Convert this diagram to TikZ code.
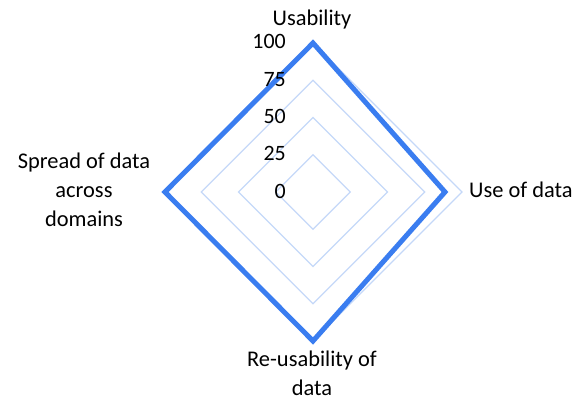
\documentclass[tikz,border=0pt]{standalone}
\usepackage{fontspec}
\setmainfont{Carlito}
\begin{document}
\begin{tikzpicture}[x=1bp,y=-1bp]
\useasboundingbox (0,0) rectangle (584,400);
\tikzset{
  gridline/.style={draw={rgb,255:red,197;green,216;blue,248}, line width=1.3bp},
  dataline/.style={draw={rgb,255:red,58;green,125;blue,240}, line width=5bp, line join=miter},
  lbl/.style={font=\fontsize{22.5}{29}\selectfont, inner sep=0pt, align=center},
  tick/.style={font=\fontsize{22}{25}\selectfont, inner sep=0pt, anchor=base east}
}
\coordinate (C) at (313,192);
\foreach \r in {37.25,74.5,111.75,149}{
  \draw[gridline] (313,192-\r) -- (313+\r,192) -- (313,192+\r) -- (313-\r,192) -- cycle;
}
\coordinate (pU) at (313,43);
\coordinate (pD) at (445,192);
\coordinate (pR) at (313,341);
\coordinate (pS) at (165,192);
\draw[dataline] (pU) -- (pD) -- (pR) -- (pS) -- cycle;
\node[tick] (t100) at (286,48) {100};
\node[tick] (t75) at (286,86) {75};
\node[tick] (t50) at (286,123) {50};
\node[tick] (t25) at (286,160) {25};
\node[tick] (t0) at (286,198) {0};
\node[lbl, anchor=base] (lU) at (312,25) {Usability};
\node[lbl, anchor=base west] (lD) at (469,197) {Use of data};
\node[lbl, anchor=base] (lS) at (84,226) {Spread of data\\across\\domains};
\node[lbl, anchor=base] (lR) at (312,395) {Re-usability of\\data};
\end{tikzpicture}
\end{document}
